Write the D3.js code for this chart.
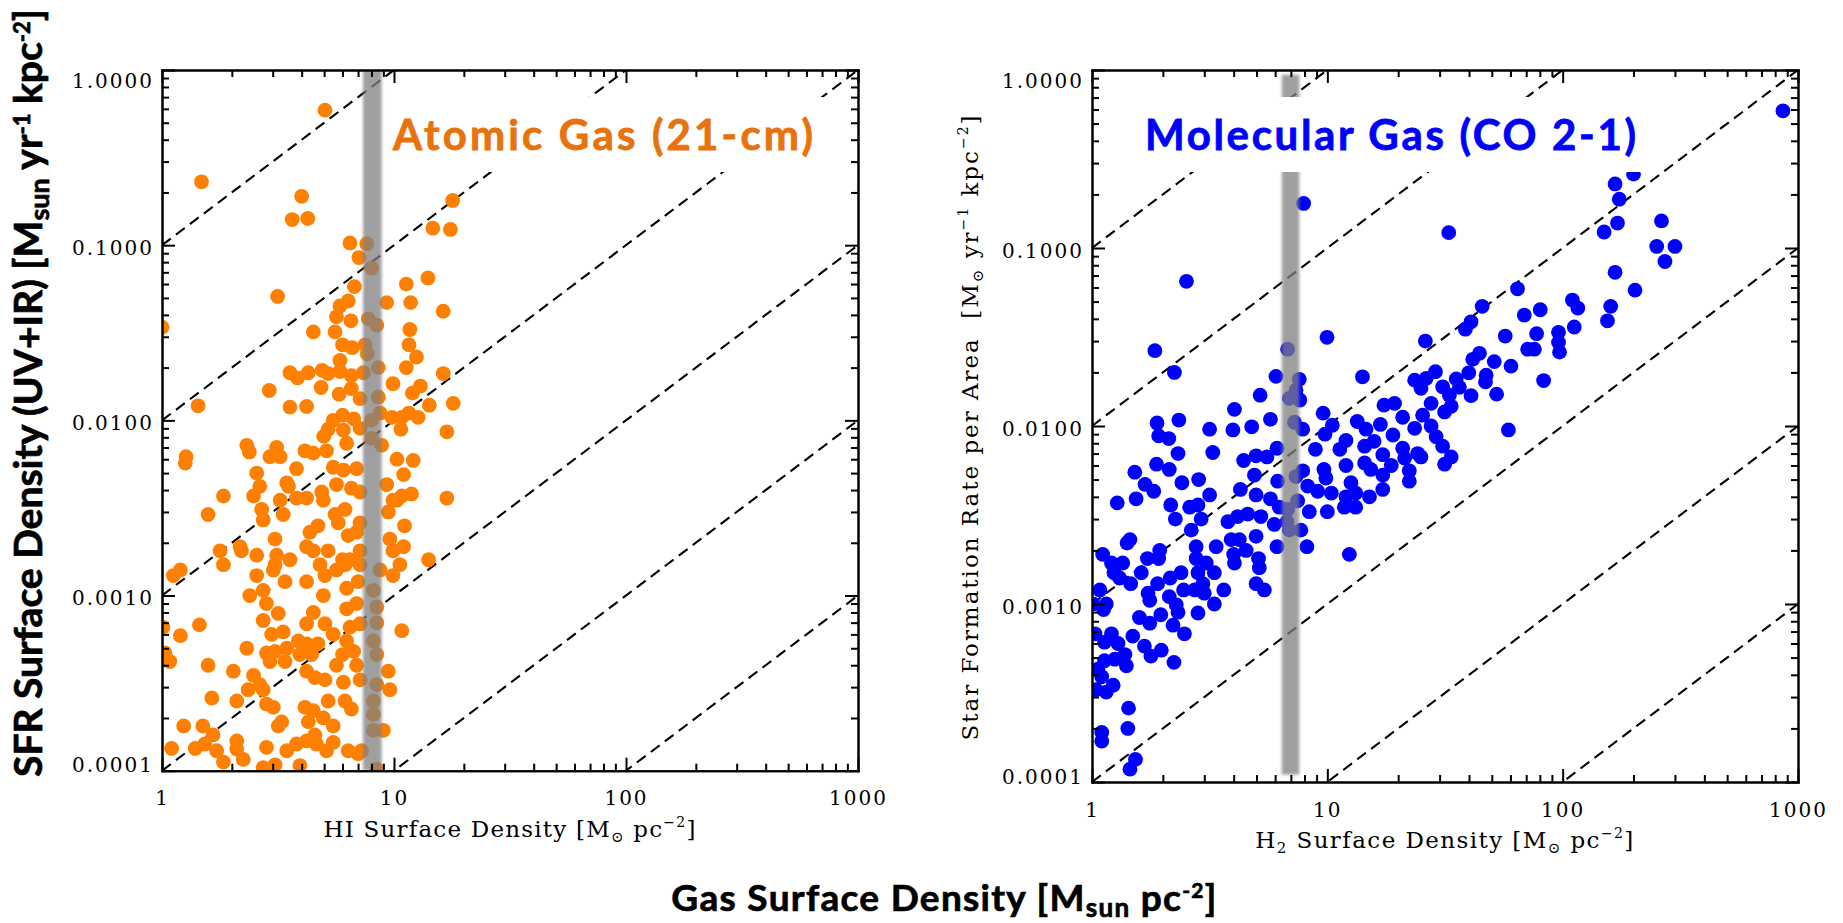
<!DOCTYPE html>
<html>
<head>
<meta charset="utf-8">
<script src="https://cdn.jsdelivr.net/npm/d3@7"></script>
<style>
html, body { margin: 0; padding: 0; background: #fff; }
svg { display: block; }
</style>
</head>
<body>
<svg id="chart" width="1843" height="923"></svg>
<script>
'use strict';

// HI surface density [Msun/pc^2] vs SFR surface density [Msun/yr/kpc^2]
var atomicPoints = [
	[5.04,0.59],[1.48,0.23],[4.0,0.19],[3.64,0.14],[4.25,0.142],[17.9,0.18],[14.7,0.125],[17.5,0.123],
	[6.46,0.103],[7.63,0.102],[7.06,0.085],[8.0,0.074],[14.0,0.065],[11.3,0.060],[6.75,0.058],[3.15,0.051],
	[11.8,0.047],[9.3,0.047],[6.35,0.048],[5.85,0.045],[16.3,0.042],[5.65,0.039],[6.52,0.037],[7.75,0.038],
	[8.43,0.035],[1.0,0.034],[4.49,0.032],[5.57,0.032],[11.7,0.033],[6.0,0.027],[6.6,0.026],[7.5,0.027],
	[7.67,0.024],[11.6,0.027],[12.5,0.023],[5.85,0.022],[11.3,0.020],[3.56,0.0187],[3.84,0.0175],[4.27,0.0187],
	[4.9,0.0193],[5.2,0.0185],[5.85,0.019],[6.55,0.018],[7.38,0.0187],[8.56,0.020],[16.3,0.0185],[4.85,0.0154],
	[2.9,0.0148],[9.9,0.0162],[13.0,0.0157],[5.8,0.0141],[6.55,0.0152],[7.14,0.0133],[8.56,0.0136],[12.0,0.0143],
	[1.43,0.0121],[3.56,0.0119],[4.2,0.012],[14.2,0.0122],[18.0,0.0125],[5.47,0.010],[6.0,0.0107],[6.7,0.0102],
	[8.0,0.010],[8.71,0.011],[9.8,0.0104],[10.8,0.0104],[11.6,0.011],[12.7,0.0104],[5.2,0.0089],[6.05,0.0088],
	[7.14,0.009],[10.7,0.0089],[16.9,0.0086],[4.98,0.0081],[8.0,0.0079],[2.32,0.0072],[3.12,0.007],[4.13,0.0067],
	[5.12,0.0067],[6.25,0.0074],[8.85,0.0072],[1.27,0.0062],[2.92,0.0062],[3.23,0.0062],[4.49,0.0065],[10.3,0.006],
	[12.1,0.0059],[2.38,0.0066],
	[1.26,0.0057],[3.8,0.0053],[5.47,0.0054],[6.05,0.0052],[6.9,0.0053],[11.0,0.0049],[2.56,0.005],[3.45,0.0044],
	[3.51,0.0042],[1.84,0.0037],[2.48,0.0037],[2.64,0.0042],[3.23,0.0035],[3.8,0.0036],[4.2,0.0036],[4.88,0.0039],
	[4.96,0.0035],[5.65,0.0043],[6.55,0.0041],[7.14,0.0039],[9.3,0.0043],[9.9,0.0035],[10.8,0.0037],[11.9,0.0038],
	[16.9,0.0036],[1.58,0.0029],[2.69,0.0031],[2.73,0.0027],[3.33,0.0029],[4.7,0.0025],[5.57,0.0029],[6.15,0.0031],
	[5.75,0.0026],[7.14,0.0026],[9.45,0.003],[10.3,0.0035],[11.1,0.0025],[4.34,0.0023],[6.35,0.0022],[6.9,0.0023],
	[3.07,0.0021],[4.2,0.0019],[4.49,0.0018],[5.2,0.0018],[6.0,0.0016],[6.46,0.0016],[7.14,0.0018],[9.6,0.0021],
	[9.9,0.0018],[11.0,0.0019],[2.17,0.0019],[1.78,0.0018],[2.2,0.0018],[2.56,0.0017],[3.12,0.0017],[3.07,0.0015],
	[3.56,0.0016],[1.84,0.0015],[1.2,0.0014],[1.12,0.0013],[2.56,0.0013],[3.02,0.0014],[3.39,0.0012],[4.2,0.0012],
	[4.8,0.0015],[5.04,0.0013],[5.65,0.0014],[6.15,0.0015],[7.14,0.0015],[8.71,0.0014],[9.9,0.0013],[10.6,0.0015],
	[14.1,0.0016],[4.96,0.001],[6.25,0.0011],[7.0,0.0012],[8.15,0.00107],[2.39,0.001],[2.73,0.00107],[2.82,0.0009],
	[3.17,0.00079],[2.73,0.00072],[4.49,0.0008],[6.25,0.00084],[6.9,0.0009],[8.43,0.00086],[1.45,0.00068],[1.01,0.00066],
	[1.2,0.00059],[4.2,0.00069],[5.04,0.00069],[5.47,0.0006],[6.46,0.00066],[7.14,0.00069],[8.43,0.0007],[10.8,0.00063],
	[2.97,0.0006],[3.33,0.00062],[3.87,0.00055],[4.2,0.00053],[4.7,0.00053],[6.25,0.00055],[8.15,0.00055],[2.32,0.0005],
	[2.82,0.00047],[3.07,0.00048],[3.45,0.0005],[3.93,0.00046],[4.41,0.00046],[6.0,0.00046],[6.7,0.00048],[8.43,0.00046],
	[1.03,0.00047],[1.08,0.00042],[1.58,0.0004],[2.92,0.00042],[3.39,0.00042],[5.65,0.0004],[6.9,0.0004],[2.03,0.00037],
	[4.2,0.00037],[4.56,0.00034],[5.04,0.00033],[6.05,0.00032],[7.14,0.00033],[9.45,0.00037],[2.48,0.00035],[2.64,0.00031],
	[2.35,0.00029],[2.73,0.00029],[8.43,0.00031],[9.6,0.00029],[1.64,0.00026],[2.1,0.00025],[2.82,0.00024],[3.02,0.00023],
	[5.2,0.00025],[6.15,0.00025],[6.55,0.000225],[8.15,0.00025],[4.13,0.00023],[4.49,0.00022],[8.15,0.00021],[1.24,0.00018],
	[1.5,0.00018],[1.66,0.00016],[3.17,0.00018],[3.28,0.00019],[4.27,0.00019],[4.96,0.0002],[5.47,0.00018],[4.56,0.00016],
	[8.15,0.00017],[9.0,0.00017],[1.1,0.000134],[1.39,0.000134],[1.53,0.000142],[1.72,0.00013],[2.1,0.000148],[2.1,0.000133],
	[2.82,0.000136],[3.45,0.00013],[3.8,0.000142],[4.2,0.000148],[4.63,0.000142],[5.47,0.000145],[5.12,0.00013],[6.35,0.00013],
	[7.25,0.00013],[1.84,0.000112],[2.24,0.000116],[2.73,0.000104],[3.07,0.000108],[3.93,0.000107],[8.43,0.000102],[7.0,0.000125]
];

// H2 surface density [Msun/pc^2] vs SFR surface density [Msun/yr/kpc^2]
var molecularPoints = [
	[863,0.59],[7.93,0.178],[2.52,0.065],
	[1.85,0.0265],[2.24,0.020],[6.78,0.027],[9.97,0.0315],[6.05,0.019],[7.6,0.0183],[7.36,0.0159],[6.9,0.0143],
	[7.64,0.014],[5.18,0.0149],[14.1,0.0189],[4.03,0.0124],[9.6,0.0118],[17.4,0.0131],[1.89,0.0104],[2.34,0.0108],
	[3.16,0.0096],[3.97,0.0095],[4.77,0.0099],[5.73,0.0109],[7.25,0.0105],[7.86,0.0096],[10.5,0.0101],[9.77,0.009],
	[13.4,0.0106],[14.6,0.0096],[16.8,0.0102],[1.92,0.0088],[2.12,0.0085],[2.32,0.007],[3.26,0.0071],[6.11,0.0075],
	[8.9,0.0074],[11.3,0.0074],[12.0,0.0083],[14.4,0.0077],[15.8,0.0082],[1.88,0.0061],[2.13,0.0057],[1.52,0.0055],
	[4.41,0.0064],[4.98,0.0068],[5.54,0.0067],[4.9,0.0053],[6.15,0.0049],[7.36,0.0052],[7.86,0.0056],[9.67,0.0057],
	[9.86,0.0051],[12.0,0.006],[12.6,0.0048],[14.4,0.0062],[15.3,0.0057],[17.2,0.0069],[17.2,0.0053],[17.2,0.0044],
	[1.68,0.0047],[1.83,0.0043],[2.41,0.0048],[2.84,0.005],[3.16,0.0041],[4.27,0.0044],[4.98,0.0041],[5.73,0.0039],
	[1.28,0.0037],[1.54,0.0039],[2.16,0.0036],[2.26,0.003],[2.6,0.0035],[2.82,0.0036],[8.25,0.0046],[9.1,0.0043],
	[10.4,0.0042],[12.0,0.004],[13.2,0.0042],[15.1,0.004],[11.8,0.0035],[13.2,0.0035],[10.0,0.0033],[8.38,0.0033],
	[7.48,0.0038],[6.78,0.0034],[6.25,0.0035],[2.64,0.0026],[2.91,0.003],[2.77,0.0021],[3.78,0.0029],[4.16,0.0031],
	[4.59,0.0032],[5.22,0.0031],[5.95,0.0028],[6.74,0.0029],[6.9,0.0026],[7.72,0.0026],[4.98,0.0024],[4.23,0.0023],
	[3.9,0.0023],[3.37,0.0021],[6.11,0.0021],[8.19,0.0021],[12.4,0.0019],[1.41,0.0022],[1.45,0.0023],[1.11,0.0019],
	[1.94,0.002],[1.92,0.0018],[1.72,0.0018],[1.35,0.0017],[1.21,0.0017],[1.24,0.0015],[1.31,0.0014],[1.62,0.0015],
	[2.15,0.0014],[2.39,0.0015],[2.45,0.0012],[2.77,0.0018],[2.82,0.0015],[3.06,0.0017],[3.31,0.0015],[2.96,0.0013],
	[2.73,0.0012],[3.0,0.00115],[3.63,0.0012],[4.03,0.0017],[4.52,0.002],[5.1,0.0018],[5.14,0.0016],[4.0,0.0019],
	[4.98,0.0013],[5.4,0.0012],[3.31,0.001],[1.46,0.0013],[1.9,0.0013],[1.73,0.00115],[1.76,0.00105],[2.13,0.0011],
	[2.28,0.00099],[2.32,0.0009],[2.82,0.00089],[1.08,0.0012],[1.15,0.001],[1.12,0.00093],[1.01,0.001],[1.59,0.00084],
	[1.76,0.00078],[1.96,0.00087],[2.21,0.00076],[2.47,0.00068],[1.49,0.00066],[1.03,0.00068],[1.13,0.00061],[1.21,0.00068],
	[1.29,0.0006],[1.67,0.00058],[1.78,0.00051],[1.97,0.00055],[2.23,0.00047],[1.38,0.00052],[1.4,0.00045],[1.25,0.00049],
	[1.13,0.00048],[1.06,0.00043],[1.1,0.00039],[1.23,0.00035],[1.15,0.00032],[1.04,0.00033],[1.43,0.00026],[1.42,0.0002],
	[1.1,0.00019],[1.1,0.00017],[1.53,0.000134],[1.45,0.000118],
	[200,0.26],[167,0.229],[174,0.188],[171,0.138],[150,0.123],[263,0.142],[251,0.102],[300,0.102],[272,0.084],
	[32.8,0.122],[167,0.073],[203,0.058],[160,0.047],[155,0.039],[64.3,0.059],[110,0.051],[116,0.046],[112,0.036],
	[80.3,0.045],[68.7,0.042],[45.5,0.047],[40.8,0.0385],[38.6,0.035],[26.1,0.030],[57,0.032],[77.5,0.033],[96,0.0336],
	[96,0.0295],[97,0.026],[71,0.027],[75.8,0.027],[60.3,0.0217],[83,0.018],[58.8,0.0095],[41.5,0.0237],[44.3,0.0256],
	[51.2,0.023],[47.3,0.0193],[47,0.0177],[52.4,0.0151],[39.9,0.0199],[40.8,0.0148],[35.3,0.0184],[28.8,0.0202],
	[26.3,0.0185],[23.5,0.0181],[25,0.0163],[30.9,0.0166],[36.4,0.0165],[33,0.0149],[27.6,0.0134],[25.4,0.0115],
	[31.5,0.012],[33.6,0.0129],[19.3,0.0134],[20.9,0.0112],[19.0,0.0089],[23.5,0.0097],[27.6,0.010],[29,0.0087],
	[30.9,0.0077],[33.6,0.0067],[31.5,0.0061],[20.9,0.0075],[24.2,0.007],[25,0.0067],[21.3,0.0066],[18.7,0.006],
	[22.3,0.0056],[22.3,0.0049]
];

// SFR = k * Sigma_gas, one dashed line per k
var efficiencies = [1e-1, 1e-2, 1e-3, 1e-4, 1e-5, 1e-6];

// shaded gas surface density range [low, high]
var atomicBand = [7.35, 8.85];
var molecularBand = [6.4, 7.6];

var xMajor = [1, 10, 100, 1000];
var yMajor = [1e-4, 1e-3, 1e-2, 1e-1, 1];
var xTickLabels = ['1', '10', '100', '1000'];
var yTickLabels = ['0.0001', '0.0010', '0.0100', '0.1000', '1.0000'];

var svg = d3.select('#chart');
var defs = svg.append('defs');

defs.append('filter')
	.attr('id', 'bandBlur')
	.attr('x', '-50%').attr('width', '200%')
	.append('feGaussianBlur')
	.attr('stdDeviation', 1.4);

/**
 * Minor ticks (2..9) for every decade between lo and hi
 */
function minorTicks(lo, hi) {
	var out = [];
	for (var e = Math.round(Math.log10(lo)); e < Math.round(Math.log10(hi)); e++) {
		for (var k = 2; k <= 9; k++) {
			out.push(k * Math.pow(10, e));
		}
	}
	return out;
}

/**
 * Spread the letters of a text element so it covers the given length
 */
function fitText(text, target) {
	var node = text.node();
	var w = node.getComputedTextLength();
	var n = node.getNumberOfChars();
	text.style('letter-spacing', ((target - w) / (n - 1)) + 'px');
}

/**
 * Append a label made of plain / sub / sup runs
 */
function richText(text, parts, subSize, supSize, subShift, supShift) {
	var shift = 0;
	parts.forEach(function (p) {
		var t = text.append('tspan').text(p[1]);
		var target = 0;
		if (p[0] === 'sub') {
			t.attr('font-size', subSize);
			target = subShift;
		} else if (p[0] === 'sup') {
			t.attr('font-size', supSize);
			target = -supShift;
		}
		t.attr('dy', target - shift);
		shift = target;
	});
	return text;
}

function drawPanel(cfg) {
	var x = d3.scaleLog().domain([1, 1000]).range([cfg.left, cfg.right]);
	var y = d3.scaleLog().domain([1e-4, 1]).range([cfg.bottom, cfg.top]);
	var g = svg.append('g').attr('class', 'panel ' + cfg.name);

	defs.append('clipPath').attr('id', 'clip-' + cfg.name)
		.append('rect')
		.attr('x', cfg.left).attr('y', cfg.top)
		.attr('width', cfg.right - cfg.left)
		.attr('height', cfg.bottom - cfg.top);

	var plot = g.append('g').attr('clip-path', 'url(#clip-' + cfg.name + ')');

	var line = d3.line()
		.x(function (d) { return x(d[0]); })
		.y(function (d) { return y(d[1]); });

	plot.selectAll('path.eff')
			.data(efficiencies)
		.enter()
			.append('path')
			.attr('class', 'eff')
			.attr('d', function (k) { return line([[1, k], [1000, k * 1000]]); })
			.attr('fill', 'none')
			.attr('stroke', '#000')
			.attr('stroke-width', 2.1)
			.attr('stroke-dasharray', '11,6.5');

	plot.selectAll('circle')
			.data(cfg.points)
		.enter()
			.append('circle')
			.attr('cx', function (d) { return x(d[0]); })
			.attr('cy', function (d) { return y(d[1]); })
			.attr('r', 7.4)
			.attr('fill', cfg.color);

	plot.append('rect')
		.attr('x', x(cfg.band[0]))
		.attr('width', x(cfg.band[1]) - x(cfg.band[0]))
		.attr('y', y(cfg.bandY[1]))
		.attr('height', y(cfg.bandY[0]) - y(cfg.bandY[1]))
		.attr('fill', '#808080')
		.attr('opacity', 0.75)
		.attr('filter', 'url(#bandBlur)');

	// title on a white patch
	var titleG = g.append('g');
	var patch = titleG.append('rect').attr('fill', '#fff');
	var title = titleG.append('text')
		.attr('x', cfg.titleX)
		.attr('y', 150)
		.attr('font-family', 'Lato, sans-serif')
		.attr('font-weight', 700)
		.attr('font-size', 42)
		.attr('fill', cfg.titleColor)
		.attr('stroke', cfg.titleColor)
		.attr('stroke-width', 0.8)
		.text(cfg.title);
	fitText(title, cfg.titleWidth);
	var bb = title.node().getBBox();
	patch.attr('x', bb.x - 5).attr('y', 97)
		.attr('width', bb.width + 12).attr('height', 75);

	// frame with inward ticks on all four sides
	var axes = g.append('g').attr('class', 'axes');
	var xMinor = minorTicks(1, 1000);
	var yMinor = minorTicks(1e-4, 1);

	function addAxis(axis, tx, ty) {
		return axes.append('g')
			.attr('transform', 'translate(' + tx + ',' + ty + ')')
			.call(axis.tickSizeOuter(0));
	}

	var bottom = addAxis(d3.axisBottom(x).tickValues(xMajor).tickSizeInner(-13)
		.tickFormat(function (d, i) { return xTickLabels[i]; }), 0, cfg.bottom);
	addAxis(d3.axisBottom(x).tickValues(xMinor).tickSizeInner(-7).tickFormat(''), 0, cfg.bottom);
	addAxis(d3.axisTop(x).tickValues(xMajor).tickSizeInner(-13).tickFormat(''), 0, cfg.top);
	addAxis(d3.axisTop(x).tickValues(xMinor).tickSizeInner(-7).tickFormat(''), 0, cfg.top);

	var left = addAxis(d3.axisLeft(y).tickValues(yMajor).tickSizeInner(-13)
		.tickFormat(function (d, i) { return yTickLabels[i]; }), cfg.left, 0);
	addAxis(d3.axisLeft(y).tickValues(yMinor).tickSizeInner(-7).tickFormat(''), cfg.left, 0);
	addAxis(d3.axisRight(y).tickValues(yMajor).tickSizeInner(-13).tickFormat(''), cfg.right, 0);
	addAxis(d3.axisRight(y).tickValues(yMinor).tickSizeInner(-7).tickFormat(''), cfg.right, 0);

	axes.selectAll('.domain')
		.attr('stroke', '#000')
		.attr('stroke-width', 2)
		.attr('stroke-linecap', 'square');
	axes.selectAll('.tick line')
		.attr('stroke', '#000')
		.attr('stroke-width', 2);

	[bottom, left].forEach(function (a) {
		a.attr('font-family', '"DejaVu Serif", serif').attr('font-size', 20);
		a.selectAll('text').attr('fill', '#000').style('letter-spacing', '2px');
	});
	bottom.selectAll('text').attr('y', cfg.xLabelY).attr('dy', 0);
	left.selectAll('text')
		.attr('x', -8)
		.attr('dy', function (d) { return d === 1 ? 17 : (d === 1e-4 ? 1 : 9); });

	// serif axis titles
	var xt = g.append('text')
		.attr('x', (cfg.left + cfg.right) / 2)
		.attr('y', cfg.xTitleY)
		.attr('text-anchor', 'middle')
		.attr('font-family', '"DejaVu Serif", serif')
		.attr('font-size', 23)
		.style('white-space', 'pre');
	richText(xt, cfg.xTitle, 15, 14, 5, 10);
	fitText(xt, cfg.xTitleWidth);

	if (cfg.yTitle) {
		var yt = g.append('text')
			.attr('transform', 'translate(' + cfg.yTitleX + ',' + ((cfg.top + cfg.bottom) / 2 + 1) + ') rotate(-90)')
			.attr('text-anchor', 'middle')
			.attr('font-family', '"DejaVu Serif", serif')
			.attr('font-size', 23)
			.style('white-space', 'pre');
		richText(yt, cfg.yTitle, 15, 14, 5, 10);
		fitText(yt, cfg.yTitleWidth);
	}
}

drawPanel({
	name: 'atomic',
	left: 162, right: 858, top: 70, bottom: 770.7,
	points: atomicPoints,
	color: '#ff8000',
	band: atomicBand,
	bandY: [1e-4, 1],
	title: 'Atomic Gas (21-cm)',
	titleColor: '#e8720c',
	titleX: 393, titleWidth: 420,
	xLabelY: 34,
	xTitleY: 837, xTitleWidth: 372,
	xTitle: [['', 'HI Surface Density [M'], ['sub', '\u2299'], ['', ' pc'], ['sup', '\u22122'], ['', ']']]
});

drawPanel({
	name: 'molecular',
	left: 1092, right: 1798, top: 70, bottom: 782,
	points: molecularPoints,
	color: '#0000ff',
	band: molecularBand,
	bandY: [1.1e-4, 0.94],
	title: 'Molecular Gas (CO 2-1)',
	titleColor: '#0000ff',
	titleX: 1145, titleWidth: 491,
	xLabelY: 35,
	xTitleY: 848, xTitleWidth: 378,
	xTitle: [['', 'H'], ['sub', '2'], ['', ' Surface Density [M'], ['sub', '\u2299'], ['', ' pc'], ['sup', '\u22122'], ['', ']']],
	yTitleX: 978, yTitleWidth: 625,
	yTitle: [['', 'Star Formation Rate per Area  [M'], ['sub', '\u2299'], ['', ' yr'], ['sup', '\u22121'],
		['', ' kpc'], ['sup', '\u22122'], ['', ']']]
});

// shared labels
var bigY = svg.append('text')
	.attr('transform', 'translate(42,393) rotate(-90)')
	.attr('text-anchor', 'middle')
	.attr('font-family', 'Lato, sans-serif')
	.attr('font-weight', 700)
	.attr('font-size', 39)
	.attr('stroke', '#000')
	.attr('stroke-width', 0.7);
richText(bigY, [['', 'SFR Surface Density (UV+IR) [M'], ['sub', 'sun'], ['', ' yr'], ['sup', '-1'],
	['', ' kpc'], ['sup', '-2'], ['', ']']], 27, 22, 7, 12);
fitText(bigY, 768);

var bigX = svg.append('text')
	.attr('x', 944.5)
	.attr('y', 911)
	.attr('text-anchor', 'middle')
	.attr('font-family', 'Lato, sans-serif')
	.attr('font-weight', 700)
	.attr('font-size', 37)
	.attr('stroke', '#000')
	.attr('stroke-width', 0.7);
richText(bigX, [['', 'Gas Surface Density [M'], ['sub', 'sun'], ['', ' pc'], ['sup', '-2'], ['', ']']], 26, 21, 6, 13);
fitText(bigX, 545);
</script>
</body>
</html>
